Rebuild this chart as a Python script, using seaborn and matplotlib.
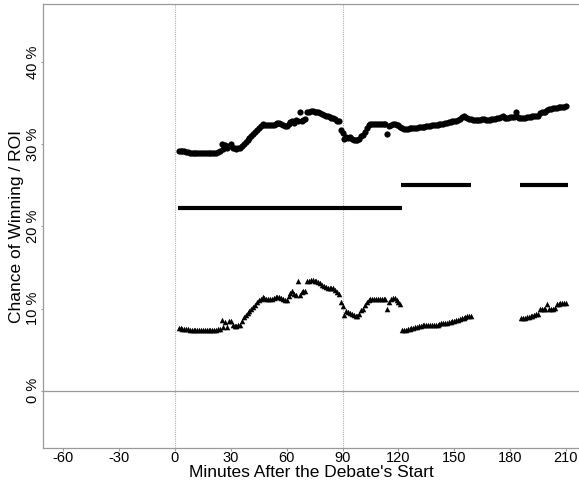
import numpy as np
import pandas as pd
import matplotlib
matplotlib.use("Agg")
import matplotlib.pyplot as plt
import seaborn as sns

sns.set_theme(style="white")
plt.rcParams['font.family'] = ['Liberation Sans', 'DejaVu Sans']

# ---- data ----
win_minutes = list(range(2, 211))
win_pct = [
    # 2-7
    29.2, 29.2, 29.2, 29.2, 29.1, 29.1,
    # 8-24
    29.0, 29.0, 29.0, 29.0, 29.0, 29.0, 29.0, 29.0, 29.0, 29.0, 29.0, 29.0, 29.0, 29.0, 29.0, 29.1, 29.2,
    # 25-44
    30.1, 29.4, 29.9, 29.5, 29.8, 30.0, 29.6, 29.5, 29.4, 29.5, 29.5, 29.8, 30.1, 30.3, 30.5, 30.8, 31.0, 31.3, 31.5, 31.7,
    # 45-64
    32.0, 32.2, 32.5, 32.4, 32.3, 32.3, 32.4, 32.3, 32.4, 32.5, 32.6, 32.6, 32.5, 32.3, 32.2, 32.2, 32.5, 32.7, 32.8, 32.6,
    # 65-88
    33.0, 32.8, 33.9, 32.8, 33.0, 33.1, 33.9, 34.0, 34.1, 34.1, 34.0, 34.0, 33.9, 33.8, 33.7, 33.6, 33.5, 33.5, 33.3, 33.2, 33.2, 33.1, 32.9, 32.8,
    # 89-104
    31.8, 31.4, 30.7, 30.9, 30.8, 30.9, 30.6, 30.5, 30.5, 30.5, 30.7, 31.0, 31.1, 31.5, 32.0, 32.4,
    # 105-121
    32.5, 32.5, 32.5, 32.5, 32.5, 32.5, 32.5, 32.5, 32.5, 31.3, 32.2, 32.4, 32.5, 32.5, 32.4, 32.3, 32.1,
    # 122-159
    32.0, 31.9, 31.9, 31.9, 32.0, 32.0, 32.0, 32.0, 32.0, 32.1, 32.1, 32.1, 32.1, 32.2, 32.2, 32.2, 32.3, 32.3, 32.4,
    32.4, 32.5, 32.5, 32.5, 32.6, 32.6, 32.7, 32.7, 32.8, 32.8, 32.9, 33.0, 33.1, 33.3, 33.4, 33.3, 33.2, 33.1, 33.1,
    # 160-182
    33.0, 33.0, 33.0, 33.0, 33.0, 33.1, 33.1, 33.0, 33.0, 33.0, 33.1, 33.1, 33.1, 33.2, 33.2, 33.3, 33.4, 33.2, 33.2,
    33.2, 33.3, 33.3, 33.3,
    # 183-210
    33.9, 33.3, 33.2, 33.2, 33.2, 33.2, 33.3, 33.3, 33.3, 33.4, 33.4, 33.4, 33.5, 33.8, 33.9, 34.0, 34.0, 34.2, 34.3,
    34.3, 34.4, 34.4, 34.4, 34.5, 34.5, 34.6, 34.6, 34.7,
]

roi_minutes = list(range(2, 122)) + list(range(122, 160)) + list(range(186, 211))
roi_pct = [
    # 2-7
    7.6, 7.6, 7.5, 7.5, 7.5, 7.5,
    # 8-24
    7.4, 7.4, 7.4, 7.4, 7.4, 7.4, 7.4, 7.4, 7.4, 7.4, 7.4, 7.4, 7.4, 7.4, 7.4, 7.5, 7.5,
    # 25-44
    8.6, 7.8, 8.4, 7.8, 8.5, 8.5, 8.0, 7.9, 7.9, 8.0, 8.0, 8.5, 9.0, 9.2, 9.5, 9.7, 10.0, 10.2, 10.4, 10.8,
    # 45-64
    11.0, 11.2, 11.4, 11.3, 11.2, 11.2, 11.2, 11.2, 11.3, 11.4, 11.4, 11.4, 11.3, 11.2, 11.1, 11.1, 11.5, 11.9, 12.1, 11.8,
    # 65-88
    11.7, 13.3, 11.7, 12.0, 12.1, 12.2, 13.3, 13.4, 13.5, 13.5, 13.4, 13.3, 13.2, 13.1, 12.9, 12.8, 12.6, 12.5, 12.5,
    12.5, 12.5, 12.3, 12.0, 11.8,
    # 89-104
    10.8, 10.3, 9.2, 9.7, 9.6, 9.5, 9.3, 9.2, 9.1, 9.1, 9.4, 9.8, 10.0, 10.4, 10.8, 11.1,
    # 105-121
    11.2, 11.2, 11.2, 11.2, 11.2, 11.2, 11.2, 11.2, 11.2, 10.0, 10.8, 11.2, 11.3, 11.3, 11.0, 10.8, 10.6,
    # 122-159
    7.4, 7.4, 7.4, 7.5, 7.5, 7.6, 7.6, 7.7, 7.8, 7.9, 7.9, 8.0, 8.0, 8.0, 8.0, 8.0, 8.0, 8.0, 8.0, 8.0,
    8.1, 8.2, 8.2, 8.3, 8.3, 8.4, 8.4, 8.5, 8.5, 8.6, 8.6, 8.7, 8.8, 8.9, 9.0, 9.1, 9.1, 9.1,
    # 186-210
    8.8, 8.8, 8.9, 9.0, 9.0, 9.1, 9.1, 9.2, 9.3, 9.3, 9.9, 9.9, 9.9, 10.0, 10.6, 9.9, 9.9, 10.0, 10.1, 10.6,
    10.6, 10.7, 10.7, 10.7, 10.7,
]

bar_level = [22.3, 25.0, 25.0]
bar_start = [1.5, 121.5, 185.5]
bar_end = [122.0, 159.0, 211.0]

x_ticks = [-60, -30, 0, 30, 60, 90, 120, 150, 180, 210]
y_ticks = [0, 10, 20, 30, 40]
y_tick_labels = ["0 %", "10 %", "20 %", "30 %", "40 %"]
ref_vlines = [0, 90]

win_df = pd.DataFrame({"minute": win_minutes, "pct": win_pct})
roi_df = pd.DataFrame({"minute": roi_minutes, "pct": roi_pct})

# ---- figure ----
fig = plt.figure(figsize=(5.79, 4.87), dpi=100)
ax = fig.add_axes([43 / 579, 1 - 448 / 487, 1 - 43 / 579, (448 - 4.3) / 487])

grey = "#9a9a9a"
for v in ref_vlines:
    ax.axvline(v, color="#b0b0b0", lw=0.8, ls=(0, (1, 1)), zorder=1)
ax.axhline(0, color=grey, lw=0.9, zorder=1)

ax.hlines(bar_level, bar_start, bar_end, color="black", lw=3.0, capstyle="butt", zorder=2)

sns.scatterplot(data=win_df, x="minute", y="pct", ax=ax, marker="o", color="black",
                s=20, linewidth=0, zorder=3, legend=False)
sns.scatterplot(data=roi_df, x="minute", y="pct", ax=ax, marker="^", color="black",
                s=16, linewidth=0, zorder=3, legend=False)

ax.set_xlim(-70.9, 217)
ax.set_ylim(-6.98, 47.06)
ax.set_xticks(x_ticks)
ax.set_xticklabels([str(t) for t in x_ticks], fontsize=10.5, color="black")
ax.set_yticks(y_ticks)
ax.set_yticklabels(y_tick_labels, fontsize=10.5, color="black", rotation=90, va="center")
ax.tick_params(axis="both", length=1.8, width=0.8, color=grey, pad=0.6, direction="out")
ax.tick_params(axis="x", bottom=True)
ax.tick_params(axis="y", left=True)

for side in ["left", "top", "bottom"]:
    ax.spines[side].set_visible(True)
    ax.spines[side].set_color(grey)
    ax.spines[side].set_linewidth(0.9)
ax.spines["right"].set_visible(False)

ax.set_xlabel("Minutes After the Debate's Start", fontsize=12.5, color="black", labelpad=0)
ax.set_ylabel("Chance of Winning / ROI", fontsize=12.5, color="black", labelpad=1)
ax.grid(False)

fig.savefig("out.png", dpi=100)
